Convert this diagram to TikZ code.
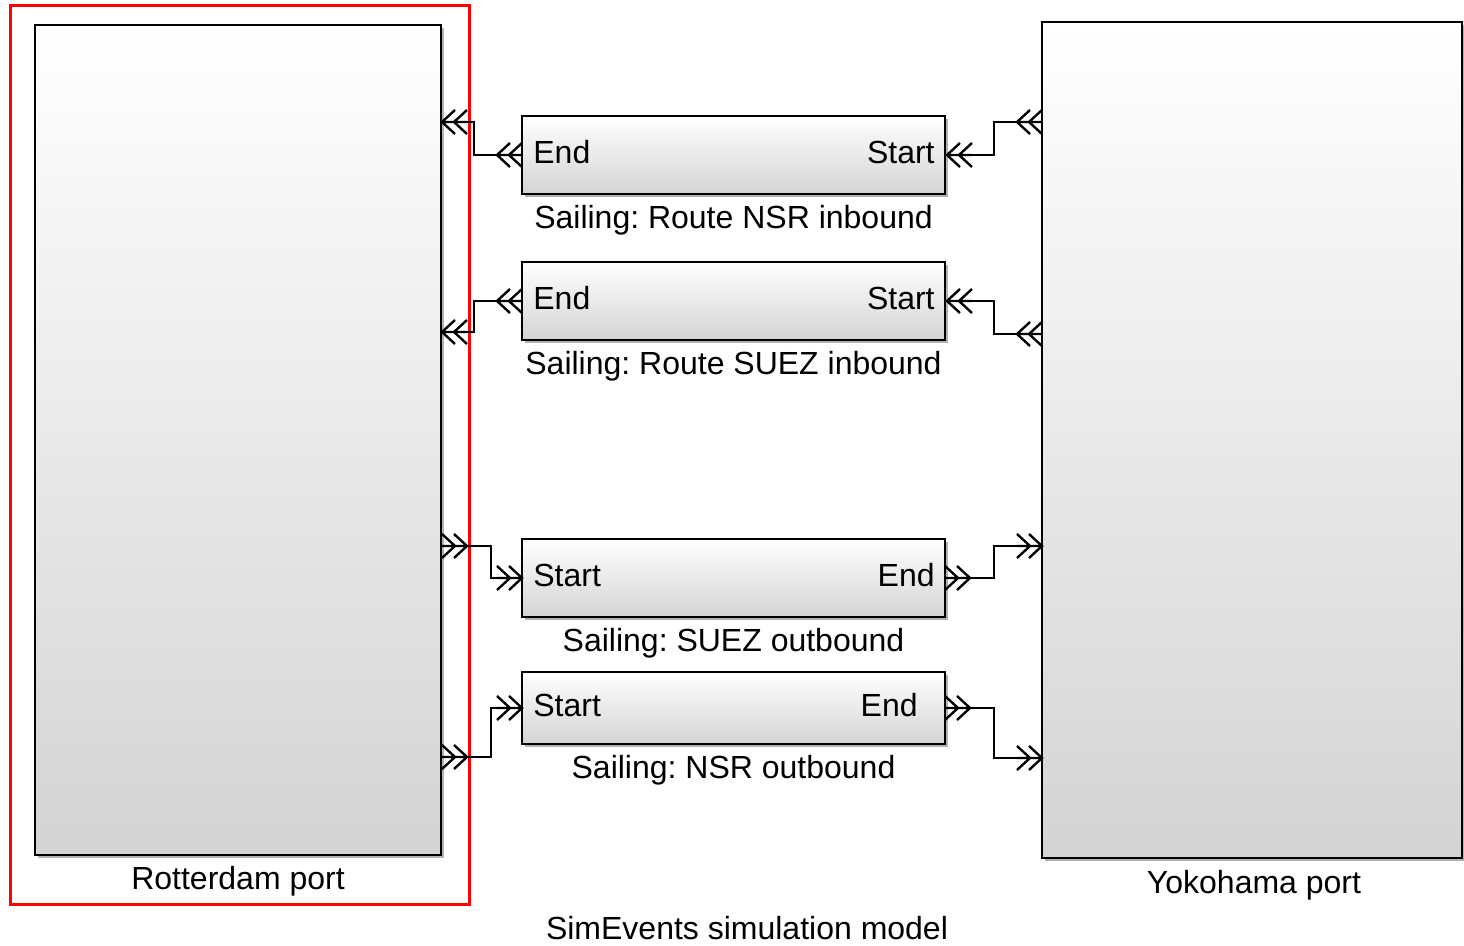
\documentclass[tikz,border=0pt]{standalone}
\usepackage{fontspec}
\setmainfont{Liberation Sans}
\usetikzlibrary{fit,shadows}
\frenchspacing
\begin{document}
\begin{tikzpicture}[x=0.5pt,y=-0.5pt,
  blk/.style={draw=black, line width=1pt, top color=white, bottom color=black!17, inner sep=0pt,
    drop shadow={shadow xshift=1.3pt, shadow yshift=-1.3pt, opacity=0.3, fill=black}},
  wire/.style={line width=0.7pt},
  chev/.style={line width=1.2pt},
  lbl/.style={font=\fontsize{16}{19}\selectfont, inner sep=0pt},
  pics/chevL/.style={code={\draw[chev] (0,0)--(25,0) (13,-12)--(0,0)--(13,12) (25,-12)--(12,0)--(25,12);}},
  pics/chevR/.style={code={\draw[chev] (0,0)--(-25,0) (-13,-12)--(0,0)--(-13,12) (-25,-12)--(-12,0)--(-25,12);}}
]
\useasboundingbox (0,0) rectangle (1464,946);

% outer highlight
\draw[red, line width=1.5pt] (10,6) rectangle (469,905);

% port blocks
\node[blk, fit={(35,25)(441,855)}] (rot) {};
\node[blk, fit={(1042,22)(1462,858)}] (yok) {};

% route blocks
\node[blk, fit={(522,116)(945,194)}] (nsrin) {};
\node[blk, fit={(522,262)(945,340)}] (suezin) {};
\node[blk, fit={(522,539)(945,617)}] (suezout) {};
\node[blk, fit={(522,672)(945,744)}] (nsrout) {};

% block texts
\node[lbl, anchor=west] (nsrinEt) at (533,152) {End};
\node[lbl, anchor=east] (nsrinSt) at (935,152) {Start};
\node[lbl, anchor=west] (suezinEt) at (533,298) {End};
\node[lbl, anchor=east] (suezinSt) at (935,298) {Start};
\node[lbl, anchor=west] (suezoutSt) at (533,575) {Start};
\node[lbl, anchor=east] (suezoutEt) at (935,575) {End};
\node[lbl, anchor=west] (nsroutSt) at (533,705) {Start};
\node[lbl, anchor=east] (nsroutEt) at (918,705) {End};

% captions
\node[lbl, anchor=base] (c1) at (733.5,229) {Sailing: Route NSR inbound};
\node[lbl, anchor=base] (c2) at (733.5,375) {Sailing: Route SUEZ inbound};
\node[lbl, anchor=base] (c3) at (733.5,652) {Sailing: SUEZ outbound};
\node[lbl, anchor=base] (c4) at (733.5,779) {Sailing: NSR outbound};
\node[lbl, anchor=base] (c5) at (238,890) {Rotterdam port};
\node[lbl, anchor=base] (c6) at (1254,893) {Yokohama port};
\node[lbl, anchor=base] (c7) at (747,940) {SimEvents simulation model};

% port coordinates (tip of chevrons)
\coordinate (rIn1) at (442,122);  \coordinate (rIn1o) at (467,122);
\coordinate (rIn2) at (442,332);  \coordinate (rIn2o) at (467,332);
\coordinate (rOut1) at (467,546);
\coordinate (rOut2) at (467,757);
\coordinate (yOut1) at (1017,122);
\coordinate (yOut2) at (1017,334);
\coordinate (yIn1) at (1042,546); \coordinate (yIn1o) at (1017,546);
\coordinate (yIn2) at (1042,758); \coordinate (yIn2o) at (1017,758);
\coordinate (nsrinE) at (497,155);
\coordinate (nsrinS) at (947,155);  \coordinate (nsrinSo) at (972,155);
\coordinate (suezinE) at (497,301);
\coordinate (suezinS) at (947,301); \coordinate (suezinSo) at (972,301);
\coordinate (suezoutS) at (522,578); \coordinate (suezoutSo) at (497,578);
\coordinate (suezoutE) at (970,578);
\coordinate (nsroutS) at (522,708); \coordinate (nsroutSo) at (497,708);
\coordinate (nsroutE) at (970,708);

% chevrons
\foreach \p in {rIn1,rIn2,yOut1,yOut2,nsrinE,nsrinS,suezinE,suezinS}
  \pic at (\p) {chevL};
\foreach \p in {rOut1,rOut2,yIn1,yIn2,suezoutS,nsroutS,suezoutE,nsroutE}
  \pic at (\p) {chevR};

% connectors
\draw[wire] (nsrinE) -- ([xshift=-11.5pt]nsrinE) |- (rIn1o);
\draw[wire] (nsrinSo) -- ([xshift=11pt]nsrinSo) |- (yOut1);
\draw[wire] (suezinE) -- ([xshift=-11.5pt]suezinE) |- (rIn2o);
\draw[wire] (suezinSo) -- ([xshift=11pt]suezinSo) |- (yOut2);
\draw[wire] (rOut1) -- ([xshift=12pt]rOut1) |- (suezoutSo);
\draw[wire] (rOut2) -- ([xshift=12pt]rOut2) |- (nsroutSo);
\draw[wire] (suezoutE) -- ([xshift=12pt]suezoutE) |- (yIn1o);
\draw[wire] (nsroutE) -- ([xshift=12pt]nsroutE) |- (yIn2o);
\end{tikzpicture}
\end{document}
